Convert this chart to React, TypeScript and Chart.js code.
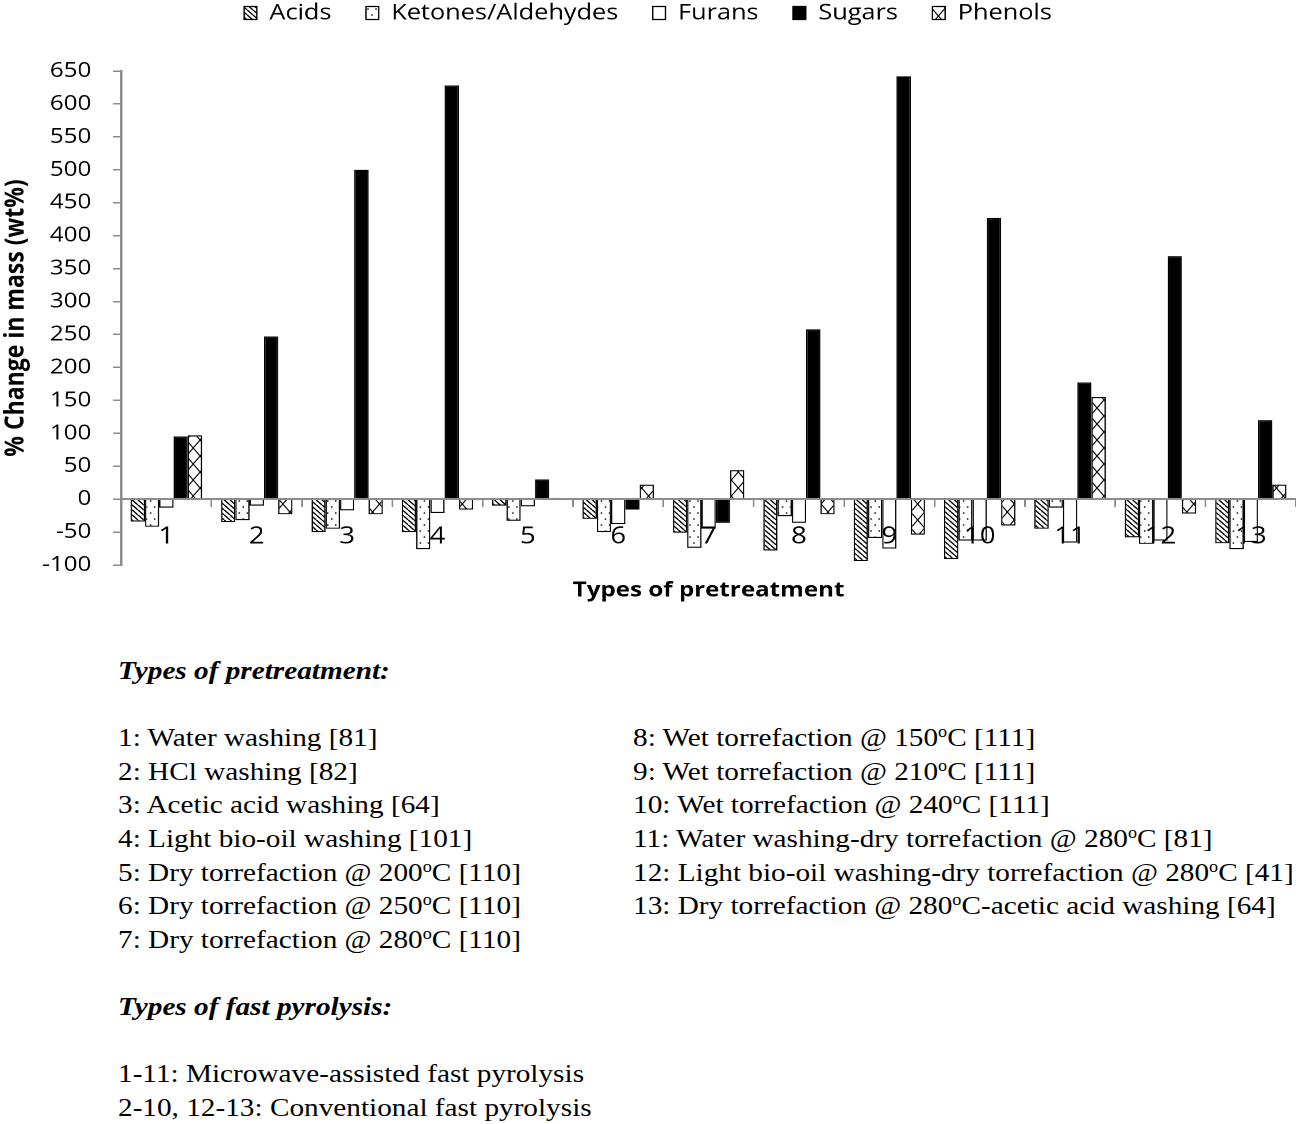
import React, { useEffect, useRef } from 'react';
import { Chart, registerables } from 'chart.js';

Chart.register(...registerables);

// ---------------- data ----------------
const categories = ['1', '2', '3', '4', '5', '6', '7', '8', '9', '10', '11', '12', '13'];
const seriesNames = ['Acids', 'Ketones/Aldehydes', 'Furans', 'Sugars', 'Phenols'];
const acids = [-34, -35, -50, -50, -10, -30, -51, -78, -94, -91, -45, -58, -67];
const ketones = [-42, -32, -45, -76, -33, -50, -74, -26, -59, -63, -13, -68, -76];
const furans = [-13, -10, -17, -21, -11, -38, -45, -36, -75, -63, -66, -63, -65];
const sugars = [95, 247, 500, 628, 30, -16, -36, 258, 642, 427, 177, 369, 120];
const phenols = [97, -23, -23, -16, 2, 22, 44, -23, -54, -40, 155, -22, 22];

const yMin = -100;
const yMax = 650;
const yStep = 50;
const xAxisTitle = 'Types of pretreatment';
const yAxisTitle = '% Change in mass (wt%)';

const pretreatmentHeading = 'Types of pretreatment:';
const pretreatmentCol1 = [
  '1: Water washing [81]',
  '2: HCl washing [82]',
  '3: Acetic acid washing [64]',
  '4: Light bio-oil washing [101]',
  '5: Dry torrefaction @ 200^oC [110]',
  '6: Dry torrefaction @ 250^oC [110]',
  '7: Dry torrefaction @ 280^oC [110]',
];
const pretreatmentCol2 = [
  '8: Wet torrefaction @ 150^oC [111]',
  '9: Wet torrefaction @ 210^oC [111]',
  '10: Wet torrefaction @ 240^oC [111]',
  '11: Water washing-dry torrefaction @ 280^oC [81]',
  '12: Light bio-oil washing-dry torrefaction @ 280^oC [41]',
  '13: Dry torrefaction @ 280^oC-acetic acid washing [64]',
];
const pyrolysisHeading = 'Types of fast pyrolysis:';
const pyrolysisLines = [
  '1-11: Microwave-assisted fast pyrolysis',
  '2-10, 12-13: Conventional fast pyrolysis',
];

// ---------------- rendering helpers ----------------
const STRETCH = 1.15;
const OUT_W = 1296;
const OUT_H = 610;
const IN_W = Math.round(OUT_W / STRETCH);
const FONT = '"Open Sans", "Liberation Sans", sans-serif';

function makePattern(kind: string): CanvasPattern | string {
  const s = 2;
  let w = 5;
  let h = 5;
  if (kind === 'dots') { w = 7; h = 12; }
  if (kind === 'cross') { w = 12; h = 16; }
  const c = document.createElement('canvas');
  c.width = w * s;
  c.height = h * s;
  const ctx = c.getContext('2d');
  if (!ctx) return '#ffffff';
  ctx.scale(s, s);
  ctx.fillStyle = '#ffffff';
  ctx.fillRect(0, 0, w, h);
  ctx.strokeStyle = '#000000';
  ctx.fillStyle = '#000000';
  if (kind === 'diag') {
    ctx.lineWidth = 1.3;
    ctx.beginPath();
    for (let k = -1; k <= 1; k++) {
      ctx.moveTo(k * w, 0);
      ctx.lineTo(k * w + w, h);
    }
    ctx.stroke();
  } else if (kind === 'dots') {
    ctx.beginPath();
    ctx.arc(1.5, 3, 0.8, 0, Math.PI * 2);
    ctx.arc(5, 9, 0.8, 0, Math.PI * 2);
    ctx.fill();
  } else if (kind === 'cross') {
    ctx.lineWidth = 1;
    ctx.beginPath();
    ctx.moveTo(0, 0); ctx.lineTo(w, h);
    ctx.moveTo(w, 0); ctx.lineTo(0, h);
    ctx.stroke();
  }
  const p = ctx.createPattern(c, 'repeat');
  if (!p) return '#ffffff';
  p.setTransform(new DOMMatrix([1 / s, 0, 0, 1 / s, 0, 0]));
  return p;
}

function renderSup(text: string) {
  const parts = text.split('^o');
  const out: React.ReactNode[] = [];
  parts.forEach((p, i) => {
    out.push(<span key={'t' + i}>{p}</span>);
    if (i < parts.length - 1) {
      out.push(
        <span key={'s' + i} style={{ fontSize: '0.62em', verticalAlign: '0.55em', lineHeight: 0 }}>o</span>
      );
    }
  });
  return out;
}

function lineStyle(left: number, top: number): React.CSSProperties {
  return {
    position: 'absolute',
    left,
    top,
    lineHeight: '34px',
    whiteSpace: 'nowrap',
    transform: 'scaleX(1.125)',
    transformOrigin: '0 0',
  };
}

export default function App() {
  const canvasRef = useRef<HTMLCanvasElement | null>(null);

  useEffect(() => {
    const canvas = canvasRef.current;
    if (!canvas) return;
    const fills = [makePattern('diag'), makePattern('dots'), '#ffffff', '#000000', makePattern('cross')];
    const values = [acids, ketones, furans, sugars, phenols];
    const chart = new Chart(canvas, {
      type: 'bar',
      data: {
        labels: categories,
        datasets: seriesNames.map((name, i) => ({
          label: name,
          data: values[i],
          backgroundColor: fills[i] as any,
          borderColor: '#000000',
          borderWidth: 1.2,
          categoryPercentage: 0.79,
          barPercentage: 1.0,
        })),
      },
      options: {
        responsive: false,
        animation: false,
        devicePixelRatio: 2,
        events: [],
        layout: { padding: { top: -28, bottom: 45, left: 0, right: 0 } },
        plugins: {
          legend: {
            position: 'top',
            weight: 3000,
            labels: {
              boxWidth: 11,
              boxHeight: 13,
              padding: 30,
              color: '#000000',
              font: { family: FONT, size: 22 },
            },
          },
          title: {
            display: true,
            position: 'top',
            weight: 500,
            text: ' ',
            font: { family: FONT, size: 10 },
            padding: { top: 0, bottom: 25 },
          },
          tooltip: { enabled: false },
        },
        scales: {
          x: {
            position: { y: 0 } as any,
            grid: {
              drawOnChartArea: false,
              drawTicks: true,
              tickLength: 7,
              color: '#8c8c8c',
              lineWidth: 1.5,
              z: 1,
            },
            border: { display: true, color: '#8c8c8c', width: 2, z: 1 },
            ticks: {
              color: '#000000',
              font: { family: FONT, size: 24 },
              padding: 16,
              maxRotation: 0,
              autoSkip: false,
              z: 2,
            },
            title: {
              display: true,
              text: xAxisTitle,
              color: '#000000',
              font: { family: FONT, size: 21, weight: 'bold' },
              padding: { top: 11, bottom: 0 },
            },
          },
          y: {
            min: yMin,
            max: yMax,
            grid: {
              drawOnChartArea: false,
              drawTicks: true,
              tickLength: 7,
              color: '#8c8c8c',
              lineWidth: 1.5,
            },
            border: { display: true, color: '#8c8c8c', width: 2 },
            ticks: {
              stepSize: yStep,
              color: '#000000',
              font: { family: FONT, size: 21 },
              padding: 19,
            },
            title: {
              display: true,
              text: yAxisTitle,
              color: '#000000',
              font: { family: FONT, size: 23, weight: 'bold' },
              padding: { top: 0, bottom: -10 },
            },
          },
        },
      },
    });
    return () => {
      chart.destroy();
    };
  }, []);

  const rowTop = (i: number) => 721 + i * 33.67;

  return (
    <div
      style={{
        position: 'absolute',
        left: 0,
        top: 0,
        width: OUT_W,
        height: 1124,
        background: '#ffffff',
        fontFamily: '"Liberation Serif", "Times New Roman", serif',
        fontSize: 26,
        color: '#000000',
        overflow: 'hidden',
      }}
    >
      <canvas
        ref={canvasRef}
        width={IN_W}
        height={OUT_H}
        style={{ position: 'absolute', left: 0, top: 0, width: OUT_W + 'px', height: OUT_H + 'px', display: 'block' }}
      />
      <div style={{ ...lineStyle(118, 654), fontWeight: 'bold', fontStyle: 'italic' }}>{pretreatmentHeading}</div>
      {pretreatmentCol1.map((t, i) => (
        <div key={'a' + i} style={lineStyle(118, rowTop(i))}>{renderSup(t)}</div>
      ))}
      {pretreatmentCol2.map((t, i) => (
        <div key={'b' + i} style={lineStyle(633, rowTop(i))}>{renderSup(t)}</div>
      ))}
      <div style={{ ...lineStyle(118, 990), fontWeight: 'bold', fontStyle: 'italic' }}>{pyrolysisHeading}</div>
      {pyrolysisLines.map((t, i) => (
        <div key={'c' + i} style={lineStyle(118, 1057 + i * 33.67)}>{t}</div>
      ))}
    </div>
  );
}
